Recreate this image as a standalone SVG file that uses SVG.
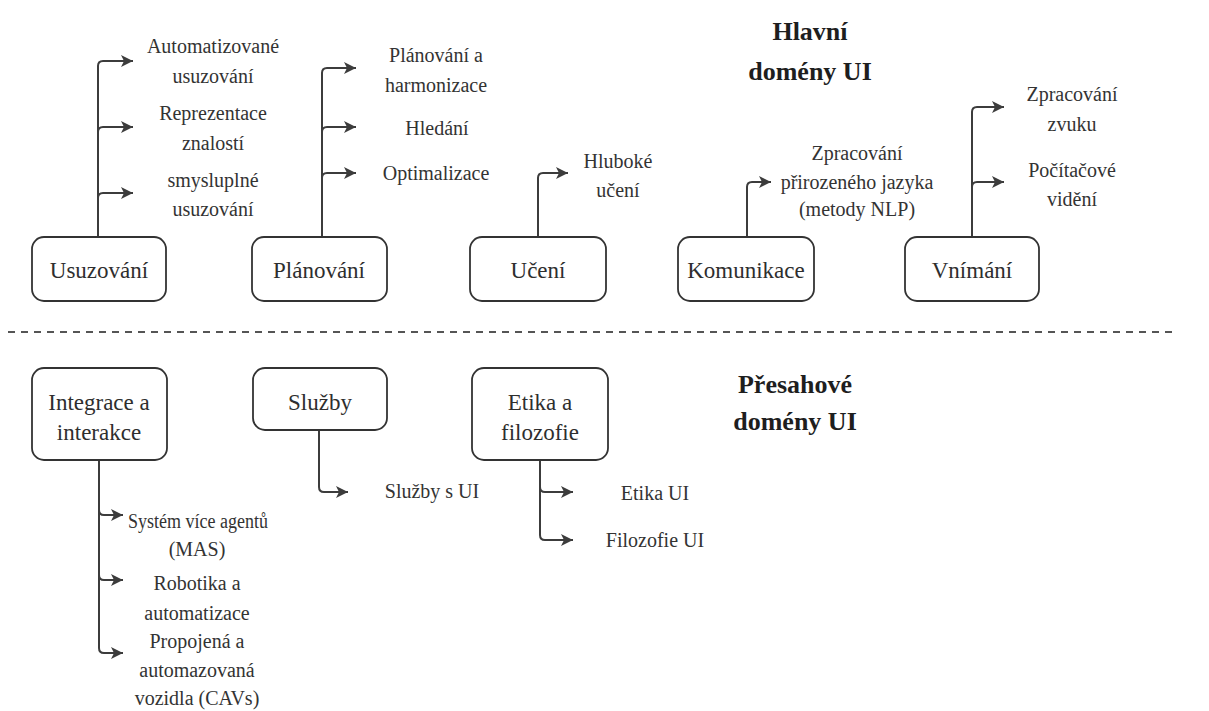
<svg xmlns="http://www.w3.org/2000/svg" width="1209" height="711" viewBox="0 0 1209 711">
  <style>
    .box { fill: #ffffff; stroke: #333333; stroke-width: 1.8; }
    .lbl { font-family: "Liberation Serif", serif; font-size: 23px; fill: #2e2e2e; text-anchor: middle; }
    .sub { font-family: "Liberation Serif", serif; font-size: 20px; fill: #333333; text-anchor: middle; }
    .title { font-family: "Liberation Serif", serif; font-size: 26px; font-weight: bold; fill: #1e1e1e; text-anchor: middle; }
    .link { fill: none; stroke: #3c3c3c; stroke-width: 2; marker-end: url(#arrow); }
    .sep { stroke: #555555; stroke-width: 2; stroke-dasharray: 7 6; }
  </style>
  <defs>
    <marker id="arrow" markerUnits="userSpaceOnUse" markerWidth="14" markerHeight="14" refX="12" refY="7" orient="auto">
      <path d="M0,1 L12,7 L0,13 L3,7 Z" fill="#3c3c3c"/>
    </marker>
  </defs>
  <rect width="1209" height="711" fill="#ffffff"/>

  <!-- section divider -->
  <line class="sep" x1="8" y1="332" x2="1172" y2="332"/>

  <!-- headings -->
  <g id="title-main">
    <text class="title" x="810" y="40">Hlavní</text>
    <text class="title" x="810" y="80">domény UI</text>
  </g>
  <g id="title-cross">
    <text class="title" x="795" y="393">Přesahové</text>
    <text class="title" x="795" y="430">domény UI</text>
  </g>

  <!-- connectors -->
  <g id="connectors">
    <path class="link" d="M98,237 V66 Q98,61 103,61 H133"/>
    <path class="link" d="M98,237 V132 Q98,127 103,127 H133"/>
    <path class="link" d="M98,237 V198 Q98,193 103,193 H133"/>

    <path class="link" d="M322,237 V73 Q322,68 327,68 H356"/>
    <path class="link" d="M322,237 V132 Q322,127 327,127 H356"/>
    <path class="link" d="M322,237 V178 Q322,173 327,173 H356"/>

    <path class="link" d="M538,237 V178 Q538,173 543,173 H568"/>

    <path class="link" d="M747,237 V187 Q747,182 752,182 H771"/>

    <path class="link" d="M972,237 V112 Q972,107 977,107 H1004"/>
    <path class="link" d="M972,237 V187 Q972,182 977,182 H1004"/>

    <path class="link" d="M99,460 V510 Q99,515 104,515 H123"/>
    <path class="link" d="M99,460 V575 Q99,580 104,580 H123"/>
    <path class="link" d="M99,460 V648 Q99,653 104,653 H123"/>

    <path class="link" d="M319,430 V487 Q319,492 324,492 H348"/>

    <path class="link" d="M540,460 V487 Q540,492 545,492 H573"/>
    <path class="link" d="M540,460 V535 Q540,540 545,540 H573"/>
  </g>

  <!-- main domains -->
  <g id="usuzovani">
    <rect class="box" x="32" y="237" width="134" height="64" rx="12"/>
    <text class="lbl" x="99" y="278">Usuzování</text>
    <text class="sub" x="213" y="53">Automatizované</text>
    <text class="sub" x="213" y="83">usuzování</text>
    <text class="sub" x="213" y="120">Reprezentace</text>
    <text class="sub" x="213" y="150">znalostí</text>
    <text class="sub" x="213" y="187">smysluplné</text>
    <text class="sub" x="213" y="216">usuzování</text>
  </g>

  <g id="planovani">
    <rect class="box" x="252" y="237" width="135" height="64" rx="12"/>
    <text class="lbl" x="319" y="278">Plánování</text>
    <text class="sub" x="436" y="62">Plánování a</text>
    <text class="sub" x="436" y="92">harmonizace</text>
    <text class="sub" x="437" y="135">Hledání</text>
    <text class="sub" x="436" y="180">Optimalizace</text>
  </g>

  <g id="uceni">
    <rect class="box" x="470" y="237" width="136" height="64" rx="12"/>
    <text class="lbl" x="538" y="278">Učení</text>
    <text class="sub" x="618" y="168">Hluboké</text>
    <text class="sub" x="618" y="197">učení</text>
  </g>

  <g id="komunikace">
    <rect class="box" x="678" y="237" width="136" height="64" rx="12"/>
    <text class="lbl" x="746" y="278">Komunikace</text>
    <text class="sub" x="857" y="160">Zpracování</text>
    <text class="sub" x="857" y="189">přirozeného jazyka</text>
    <text class="sub" x="857" y="216">(metody NLP)</text>
  </g>

  <g id="vnimani">
    <rect class="box" x="905" y="237" width="134" height="64" rx="12"/>
    <text class="lbl" x="972" y="278">Vnímání</text>
    <text class="sub" x="1072" y="101">Zpracování</text>
    <text class="sub" x="1072" y="131">zvuku</text>
    <text class="sub" x="1072" y="177">Počítačové</text>
    <text class="sub" x="1072" y="206">vidění</text>
  </g>

  <!-- cross-cutting domains -->
  <g id="integrace">
    <rect class="box" x="32" y="368" width="135" height="92" rx="12"/>
    <text class="lbl" x="99" y="410">Integrace a</text>
    <text class="lbl" x="99" y="440">interakce</text>
    <text class="sub" x="198" y="528" textLength="140" lengthAdjust="spacingAndGlyphs">Systém více agentů</text>
    <text class="sub" x="197" y="556">(MAS)</text>
    <text class="sub" x="197" y="590">Robotika a</text>
    <text class="sub" x="197" y="620">automatizace</text>
    <text class="sub" x="197" y="648">Propojená a</text>
    <text class="sub" x="197" y="677">automazovaná</text>
    <text class="sub" x="197" y="705">vozidla (CAVs)</text>
  </g>

  <g id="sluzby">
    <rect class="box" x="253" y="368" width="134" height="62" rx="12"/>
    <text class="lbl" x="320" y="410">Služby</text>
    <text class="sub" x="432" y="498">Služby s UI</text>
  </g>

  <g id="etika">
    <rect class="box" x="472" y="368" width="136" height="92" rx="12"/>
    <text class="lbl" x="540" y="410">Etika a</text>
    <text class="lbl" x="540" y="440">filozofie</text>
    <text class="sub" x="655" y="500">Etika UI</text>
    <text class="sub" x="655" y="547">Filozofie UI</text>
  </g>
</svg>
